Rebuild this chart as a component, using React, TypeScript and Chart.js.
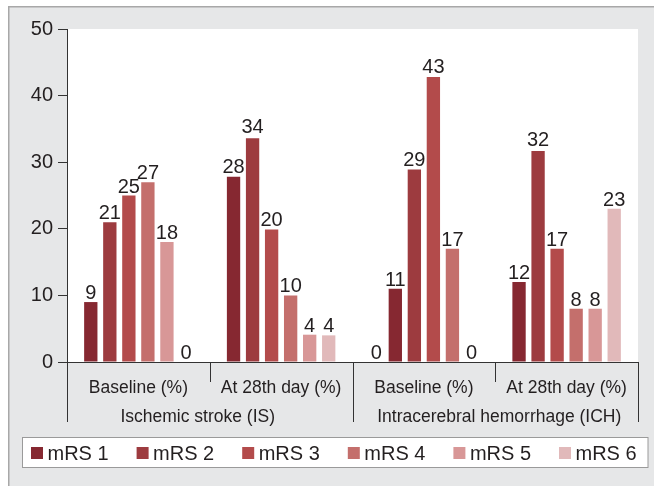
import { useEffect, useRef } from "react";
import { Chart, registerables } from "chart.js";

Chart.register(...registerables);

const FONT = "'Liberation Sans', Arial, Helvetica, sans-serif";
const TEXT = "#231f20";

const categories = ["Baseline (%)", "At 28th day (%)", "Baseline (%)", "At 28th day (%)"];
const groups = ["Ischemic stroke (IS)", "Intracerebral hemorrhage (ICH)"];
const seriesNames = ["mRS 1", "mRS 2", "mRS 3", "mRS 4", "mRS 5", "mRS 6"];
const seriesColors = ["#862831", "#9d3b3f", "#b34b4b", "#c46f6c", "#d89797", "#e1b9ba"];
// in the ICH baseline group the source chart paints each bar one shade darker
const colorShiftByCategory = [0, 0, 1, 0];

const mrs1 = [9, 27.8, 0, 12];
const mrs2 = [21, 33.6, 11, 31.7];
const mrs3 = [25, 19.9, 28.9, 17];
const mrs4 = [27, 10, 42.8, 8];
const mrs5 = [18, 4.1, 17, 8];
const mrs6 = [0, 4, 0, 23];
const seriesValues = [mrs1, mrs2, mrs3, mrs4, mrs5, mrs6];

const yTicks = [0, 10, 20, 30, 40, 50];

const decorPlugin = {
  id: "decor",
  beforeDraw(chart: any) {
    const { ctx, chartArea: ca, width, height } = chart;
    ctx.save();
    ctx.fillStyle = "#ffffff";
    ctx.fillRect(0, 0, width, height);
    ctx.fillStyle = "#e6e7e8";
    ctx.fillRect(8, 6, width - 8, height - 6);
    ctx.strokeStyle = "#a8a8a8";
    ctx.lineWidth = 1.5;
    ctx.beginPath();
    ctx.moveTo(8.75, height);
    ctx.lineTo(8.75, 6.75);
    ctx.lineTo(width, 6.75);
    ctx.stroke();
    ctx.fillStyle = "#ffffff";
    ctx.fillRect(ca.left, ca.top, ca.right - ca.left, ca.bottom - ca.top);
    ctx.restore();
  },
  afterDatasetsDraw(chart: any) {
    const { ctx } = chart;
    const y = chart.scales.y;
    ctx.save();
    ctx.font = `20px ${FONT}`;
    ctx.fillStyle = TEXT;
    ctx.textAlign = "center";
    ctx.textBaseline = "alphabetic";
    chart.data.datasets.forEach((ds: any, di: number) => {
      const meta = chart.getDatasetMeta(di);
      meta.data.forEach((el: any, i: number) => {
        const v = Math.round(ds.data[i]);
        ctx.fillText(String(v), el.x, y.getPixelForValue(v) - 3);
      });
    });
    ctx.restore();
  },
  afterDraw(chart: any) {
    const { ctx, chartArea: ca } = chart;
    const x = chart.scales.x;
    const n = categories.length;
    const cw = (ca.right - ca.left) / n;
    ctx.save();
    ctx.strokeStyle = "#333333";
    ctx.lineWidth = 1;
    for (let k = 0; k <= n; k++) {
      const px = Math.round(ca.left + k * cw) + 0.5;
      const long = k % 2 === 0;
      ctx.beginPath();
      ctx.moveTo(px, ca.bottom);
      ctx.lineTo(px, ca.bottom + (long ? 60 : 20));
      ctx.stroke();
    }
    ctx.font = `17.5px ${FONT}`;
    ctx.fillStyle = TEXT;
    ctx.textAlign = "center";
    ctx.textBaseline = "middle";
    const offsets = [-12, 4];
    groups.forEach((g, gi) => {
      const c = (x.getPixelForValue(gi * 2) + x.getPixelForValue(gi * 2 + 1)) / 2 + offsets[gi];
      ctx.fillText(g, c, ca.bottom + 55);
    });

    // legend box
    ctx.fillStyle = "#ffffff";
    ctx.fillRect(22.5, 437.5, 625.5, 30);
    ctx.strokeStyle = "#9a9a9a";
    ctx.strokeRect(22.5, 437.5, 625.5, 30);
    ctx.font = `20px ${FONT}`;
    ctx.textAlign = "left";
    ctx.textBaseline = "alphabetic";
    seriesNames.forEach((name, i) => {
      const lx = 31 + i * 105.6;
      ctx.fillStyle = seriesColors[i];
      ctx.fillRect(lx, 447, 12, 12);
      ctx.fillStyle = TEXT;
      ctx.fillText(name, lx + 16.5, 460);
    });
    ctx.restore();
  },
};

export default function App() {
  const ref = useRef<HTMLCanvasElement | null>(null);
  useEffect(() => {
    if (!ref.current) return;
    Chart.defaults.font.family = FONT;
    const chart = new Chart(ref.current, {
      type: "bar",
      data: {
        labels: categories,
        datasets: seriesNames.map((name, i) => ({
          label: name,
          data: seriesValues[i],
          backgroundColor: categories.map(
            (_, ci) => seriesColors[Math.max(0, i - colorShiftByCategory[ci])]
          ),
          borderWidth: 0,
          categoryPercentage: 0.8,
          barPercentage: 0.7,
        })),
      },
      options: {
        responsive: false,
        animation: false,
        layout: { padding: { top: 29, right: 16, left: 0, bottom: 0 } },
        plugins: {
          legend: { display: false },
          tooltip: { enabled: false },
          title: { display: false },
        },
        scales: {
          x: {
            type: "category",
            ticks: {
              font: { size: 17.5, family: FONT },
              color: TEXT,
              padding: 8,
              maxRotation: 0,
              autoSkip: false,
            },
            grid: { display: false },
            border: { display: true, color: "#333333", width: 1 },
            afterFit: (s: any) => {
              s.height = 124;
            },
          },
          y: {
            min: 0,
            max: 50,
            ticks: {
              font: { size: 20, family: FONT },
              color: TEXT,
              padding: 5,
            },
            afterBuildTicks: (s: any) => {
              s.ticks = yTicks.map((v) => ({ value: v }));
            },
            grid: {
              drawOnChartArea: false,
              drawTicks: true,
              tickLength: 9,
              color: "#333333",
              lineWidth: 1,
            },
            border: { display: true, color: "#333333", width: 1 },
            afterFit: (s: any) => {
              s.width = 67;
            },
          },
        },
      },
      plugins: [decorPlugin],
    });
    return () => chart.destroy();
  }, []);
  return (
    <div style={{ position: "absolute", left: 0, top: 0, width: 654, height: 486 }}>
      <canvas ref={ref} width={654} height={486} style={{ display: "block" }} />
    </div>
  );
}
